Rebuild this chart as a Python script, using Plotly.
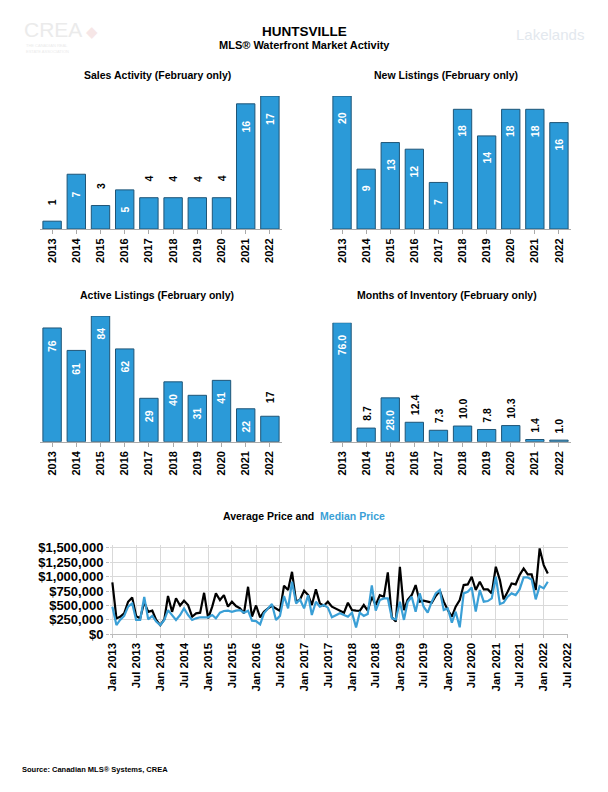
import plotly.graph_objects as go
import pandas as pd

W, H = 608, 792
FONT = "Liberation Sans, Arial, sans-serif"
BLUE = "#2b9ad8"
EDGE = "#1f5577"
LBLUE = "#3a9fd6"

years = ["2013", "2014", "2015", "2016", "2017", "2018", "2019", "2020", "2021", "2022"]
sales = [1, 7, 3, 5, 4, 4, 4, 4, 16, 17]
new_listings = [20, 9, 13, 12, 7, 18, 14, 18, 18, 16]
active_listings = [76, 61, 84, 62, 29, 40, 31, 41, 22, 17]
months_inventory = [76.0, 8.7, 28.0, 12.4, 7.3, 10.0, 7.8, 10.3, 1.4, 1.0]

sales_pos = ["outside", "inside", "outside", "inside", "outside", "outside", "outside", "outside", "inside", "inside"]
new_pos = ["inside"] * 10
active_pos = ["inside"] * 9 + ["outside"]
months_pos = ["inside", "outside", "inside", "outside", "outside", "outside", "outside", "outside", "outside", "outside"]

avg_price = [900, 275, 305, 365, 565, 640, 318, 277, 560, 390, 410, 250,
             160, 260, 665, 390, 625, 500, 583, 508, 305, 364, 375, 720,
             277, 480, 710, 595, 680, 480, 565, 490, 450, 365, 825, 305,
             500, 295, 390, 450, 490, 450, 405, 843, 770, 1085, 565, 605,
             756, 680, 508, 780, 537, 497, 565, 480, 440, 410, 375, 548,
             420, 410, 405, 508, 410, 650, 508, 680, 652, 1074, 295, 220,
             1170, 420, 600, 681, 855, 566, 583, 566, 549, 664, 756, 566,
             421, 306, 479, 595, 855, 866, 999, 768, 912, 779, 779, 710,
             1172, 941, 606, 739, 883, 866, 1028, 1143, 1039, 1039, 768, 1490,
             1201, 1057]
median_price = [480, 160, 250, 320, 480, 537, 250, 250, 650, 260, 320, 220,
                160, 250, 420, 335, 250, 335, 450, 335, 250, 277, 295, 295,
                295, 335, 277, 375, 405, 410, 390, 410, 420, 375, 410, 237,
                230, 173, 365, 450, 525, 250, 320, 665, 450, 912, 537, 605,
                450, 680, 335, 565, 480, 508, 462, 295, 335, 364, 335, 305,
                375, 120, 375, 320, 352, 850, 410, 595, 623, 623, 277, 260,
                565, 250, 560, 652, 393, 710, 479, 375, 566, 710, 768, 421,
                450, 202, 393, 121, 710, 739, 814, 393, 768, 566, 577, 624,
                999, 525, 549, 652, 710, 681, 779, 987, 987, 953, 606, 837,
                797, 912]
dates = pd.date_range("2013-01-01", periods=len(avg_price), freq="MS")
avg_price = [v * 1000 for v in avg_price]
median_price = [v * 1000 for v in median_price]


def px(v):
    return v / W


def py(v):
    return 1 - v / H


fig = go.Figure()
ann = []

# suffix, values, label positions, label texts, x domain px, y domain px, y max, inside gap, outside gap
panels = [
    ("", sales, sales_pos, [str(v) for v in sales], (40, 282), (229, 96), 17, 15, 14),
    ("2", new_listings, new_pos, [str(v) for v in new_listings], (330, 571), (229, 96), 20, 14, 6),
    ("3", active_listings, active_pos, [str(v) for v in active_listings], (40, 282), (441.7, 316), 84, 10, 11),
    ("4", months_inventory, months_pos, [f"{v:.1f}" for v in months_inventory], (330, 571), (441.7, 322.7), 76, 10, 5),
]

for suf, vals, pos, txt, xd, yd, ymax, gin, gout in panels:
    fig.add_trace(go.Bar(
        x=years, y=vals,
        marker=dict(color=BLUE, line=dict(color=EDGE, width=1)),
        xaxis="x" + suf, yaxis="y" + suf, showlegend=False, hoverinfo="skip",
    ))
    for i, (v, p, t) in enumerate(zip(vals, pos, txt)):
        inside = p == "inside"
        ann.append(dict(
            x=i, y=v, xref="x" + suf, yref="y" + suf, text=t, showarrow=False, textangle=-90,
            xanchor="center", yanchor="top" if inside else "bottom",
            yshift=-gin if inside else gout,
            font=dict(size=10.5, color="white" if inside else "black", family=FONT, weight="bold"),
        ))
    fig.update_layout(**{
        "xaxis" + suf: dict(domain=[px(xd[0]), px(xd[1])], anchor="y" + suf, type="category",
                            range=[-0.5, len(years) - 0.5],
                            tickangle=-90, ticks="outside", ticklen=4, tickcolor="#aaaaaa",
                            showline=True, linecolor="#aaaaaa", linewidth=1, showgrid=False,
                            tickfont=dict(size=11, color="black", family=FONT, weight="bold"),
                            automargin=False),
        "yaxis" + suf: dict(domain=[py(yd[0]), py(yd[1])], anchor="x" + suf, range=[0, ymax],
                            visible=False, automargin=False),
    })
fig.update_layout(bargap=0.24)

fig.add_trace(go.Scatter(x=dates, y=avg_price, mode="lines", line=dict(color="black", width=2.2),
                         xaxis="x5", yaxis="y5", showlegend=False, hoverinfo="skip"))
fig.add_trace(go.Scatter(x=dates, y=median_price, mode="lines", line=dict(color=LBLUE, width=2.2),
                         xaxis="x5", yaxis="y5", showlegend=False, hoverinfo="skip"))
fig.update_layout(
    xaxis5=dict(domain=[px(110), px(568)], anchor="y5", type="date",
                range=["2012-12-14", "2022-07-05"], tick0="2013-01-01", dtick="M6",
                tickformat="%b %Y", tickangle=-90, showgrid=True, gridcolor="#d9d9d9", gridwidth=1,
                ticks="outside", ticklen=3, tickcolor="#bbbbbb", showline=True, linecolor="#bbbbbb",
                tickfont=dict(size=11.5, color="black", family=FONT, weight="bold"), automargin=False),
    yaxis5=dict(domain=[py(634.3), py(545)], anchor="x5", range=[0, 1550000], dtick=250000,
                tickformat="$,", showgrid=True, gridcolor="#d9d9d9", gridwidth=1, zeroline=False,
                ticks="outside", ticklen=3, tickcolor="#bbbbbb",
                tickfont=dict(size=13, color="black", family=FONT, weight="bold"), automargin=False),
)


def text(x, y, s, size, color="black", anchor="center", weight="bold", family=FONT):
    ann.append(dict(x=px(x), y=py(y), xref="paper", yref="paper", text=s, showarrow=False,
                    xanchor=anchor, yanchor="middle",
                    font=dict(size=size, color=color, family=family, weight=weight)))


text(304, 31, "HUNTSVILLE", 13.5)
text(304, 44.5, "MLS® Waterfront Market Activity", 11)
text(157, 75, "Sales Activity (February only)", 10.5)
text(446, 75, "New Listings (February only)", 10.5)
text(157, 295, "Active Listings (February only)", 10.5)
text(447, 295, "Months of Inventory (February only)", 10.5)
text(304, 516, "Average Price and  <span style='color:%s'>Median Price</span>" % LBLUE, 10.5)
text(20, 769, "Source: Canadian MLS® Systems, CREA", 7.5, anchor="left")
# faint logos
text(22, 29, "CREA", 21, color="#ebebeb", anchor="left", weight="normal")
text(24, 46, "THE CANADIAN REAL", 4, color="#ebebeb", anchor="left", weight="normal")
text(24, 51, "ESTATE ASSOCIATION", 4, color="#ebebeb", anchor="left", weight="normal")
text(84, 31, "◆", 15, color="#f6e6e6", anchor="left", weight="normal")
text(550, 34, "Lakelands", 15, color="#e3e8ee", weight="normal")

fig.update_layout(annotations=ann, width=W, height=H, margin=dict(l=0, r=0, t=0, b=0),
                  paper_bgcolor="white", plot_bgcolor="white", font=dict(family=FONT))

fig.write_html("out.html", config={"displayModeBar": False},
               post_script="document.body.style.margin='0';")
